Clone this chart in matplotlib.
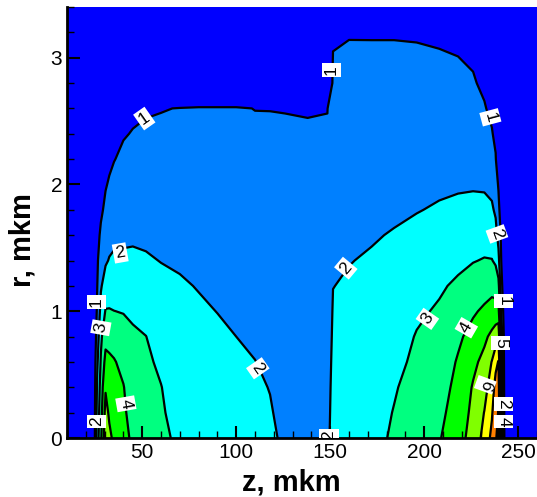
import numpy as np
import matplotlib
matplotlib.use("Agg")
import matplotlib.pyplot as plt
from matplotlib.ticker import MultipleLocator

plt.rcParams['font.family'] = ['Liberation Sans', 'DejaVu Sans']

# grid of the field (z in mkm, r in mkm)
z_nodes = [10, 24, 26, 28, 30.5, 32.5, 35, 40, 45, 52, 60, 70, 80, 90, 100, 110, 118, 126,
           138, 148.5, 151.5, 160, 172, 184, 196, 208, 218, 226, 232, 236, 238, 239.5,
           241, 242.5, 244, 260]
r_nodes = [0, 0.2, 0.4, 0.6, 0.8, 1.0, 1.2, 1.4, 1.6, 1.8, 2.0, 2.2, 2.4, 2.6, 2.8, 3.0, 3.2, 3.4]

# one profile (value vs r) for every z node
field = [
    [0, 0, 0, 0, 0, 0, 0, 0, 0, 0, 0, 0, 0, 0, 0, 0, 0, 0],
    [0, 0, 0, 0, 0, 0, 0, 0, 0, 0, 0, 0, 0, 0, 0, 0, 0, 0],
    [2.5, 2.3, 2.1, 1.8, 1.4, 1.1, 0.95, 0.85, 0.6, 0.3, 0, 0, 0, 0, 0, 0, 0, 0],
    [3.8, 3.6, 3.4, 3.1, 2.8, 2.3, 1.9, 1.5, 1.2, 0.8, 0.2, 0, 0, 0, 0, 0, 0, 0],
    [5.7, 5.32, 4.91, 4.30, 3.69, 3.06, 2.42, 1.89, 1.56, 1.24, 0.92, 0, 0, 0, 0, 0, 0, 0],
    [5.2, 4.86, 4.52, 4.17, 3.69, 3.06, 2.55, 2.05, 1.72, 1.42, 1.11, 0.80, 0, 0, 0, 0, 0, 0],
    [4.82, 4.57, 4.32, 4.07, 3.59, 3.01, 2.57, 2.13, 1.81, 1.53, 1.25, 0.97, 0, 0, 0, 0, 0, 0],
    [4.24, 4.14, 4.04, 3.75, 3.35, 2.96, 2.55, 2.14, 1.85, 1.63, 1.40, 1.17, 0.94, 0, 0, 0, 0, 0],
    [3.86, 3.68, 3.49, 3.31, 3.12, 2.87, 2.51, 2.15, 1.88, 1.67, 1.46, 1.25, 1.04, 0.84, 0, 0, 0, 0],
    [3.52, 3.39, 3.26, 3.13, 3.01, 2.69, 2.38, 2.08, 1.86, 1.67, 1.49, 1.30, 1.11, 0.93, 0, 0, 0, 0],
    [3.13, 3.08, 3.02, 2.87, 2.64, 2.42, 2.20, 1.98, 1.81, 1.65, 1.48, 1.31, 1.14, 0.97, 0, 0, 0, 0],
    [2.88, 2.74, 2.61, 2.47, 2.34, 2.20, 2.07, 1.92, 1.77, 1.62, 1.46, 1.31, 1.15, 1.02, 0, 0, 0, 0],
    [2.72, 2.59, 2.47, 2.34, 2.22, 2.09, 1.97, 1.83, 1.69, 1.55, 1.42, 1.28, 1.14, 1.05, 0, 0, 0, 0],
    [2.6, 2.48, 2.36, 2.23, 2.11, 1.99, 1.87, 1.74, 1.62, 1.50, 1.37, 1.25, 1.13, 1.05, 0, 0, 0, 0],
    [2.45, 2.34, 2.23, 2.11, 2.0, 1.89, 1.78, 1.67, 1.56, 1.45, 1.34, 1.23, 1.12, 1.05, 0, 0, 0, 0],
    [2.3, 2.20, 2.10, 2.01, 1.90, 1.80, 1.70, 1.60, 1.50, 1.40, 1.30, 1.20, 1.10, 0.99, 0, 0, 0, 0],
    [2.12, 2.05, 1.98, 1.89, 1.80, 1.71, 1.62, 1.53, 1.44, 1.35, 1.26, 1.17, 1.08, 0.99, 0, 0, 0, 0],
    [1.88, 1.81, 1.74, 1.67, 1.60, 1.54, 1.47, 1.40, 1.33, 1.26, 1.19, 1.12, 1.06, 0.985, 0, 0, 0, 0],
    [1.75, 1.69, 1.63, 1.57, 1.51, 1.45, 1.39, 1.33, 1.27, 1.22, 1.16, 1.10, 1.04, 0.976, 0, 0, 0, 0],
    [1.72, 1.66, 1.61, 1.55, 1.50, 1.44, 1.38, 1.33, 1.27, 1.21, 1.16, 1.10, 1.04, 0.99, 0, 0, 0, 0],
    [2.45, 2.37, 2.30, 2.22, 2.14, 2.07, 1.99, 1.88, 1.78, 1.67, 1.56, 1.45, 1.35, 1.24, 1.13, 1.03, 0.91, 0],
    [2.6, 2.51, 2.42, 2.34, 2.25, 2.16, 2.07, 1.98, 1.87, 1.75, 1.64, 1.53, 1.42, 1.30, 1.19, 1.08, 0.966, 0],
    [2.82, 2.71, 2.60, 2.50, 2.39, 2.28, 2.17, 2.06, 1.95, 1.83, 1.70, 1.58, 1.46, 1.33, 1.21, 1.09, 0.96, 0],
    [3.08, 3.03, 2.94, 2.79, 2.64, 2.49, 2.34, 2.19, 2.04, 1.90, 1.77, 1.63, 1.50, 1.37, 1.23, 1.09, 0.96, 0],
    [3.50, 3.39, 3.27, 3.16, 3.05, 2.86, 2.64, 2.41, 2.18, 1.97, 1.82, 1.68, 1.53, 1.38, 1.24, 1.09, 0.94, 0],
    [3.93, 3.76, 3.60, 3.43, 3.27, 3.10, 2.89, 2.62, 2.34, 2.07, 1.88, 1.71, 1.55, 1.39, 1.22, 1.06, 0.89, 0],
    [4.62, 4.44, 4.27, 4.09, 3.83, 3.48, 3.14, 2.81, 2.48, 2.16, 1.91, 1.73, 1.55, 1.37, 1.19, 1.01, 0.81, 0],
    [5.38, 5.23, 5.08, 4.78, 4.33, 3.88, 3.42, 2.96, 2.59, 2.22, 1.92, 1.71, 1.51, 1.30, 1.09, 0.89, 0, 0],
    [6.31, 6.03, 5.65, 5.27, 4.81, 4.16, 3.59, 3.05, 2.64, 2.24, 1.89, 1.62, 1.35, 1.08, 0.81, 0, 0, 0],
    [7.26, 6.89, 6.47, 6.04, 5.22, 4.4, 3.68, 3.03, 2.58, 2.13, 1.76, 1.42, 1.08, 0.76, 0, 0, 0, 0],
    [7.9, 7.7, 7.38, 6.71, 5.5, 4.43, 3.58, 2.86, 2.32, 1.85, 1.47, 1.09, 0.73, 0, 0, 0, 0, 0],
    [8.3, 8.05, 7.6, 7.06, 5.73, 4.36, 3.32, 2.28, 1.7, 1.3, 0.9, 0, 0, 0, 0, 0, 0, 0],
    [4.6, 4.4, 4.0, 3.5, 2.8, 1.8, 1.3, 0.98, 0.8, 0.4, 0, 0, 0, 0, 0, 0, 0, 0],
    [1.1, 1.05, 1.0, 0.9, 0.8, 0.6, 0.4, 0.2, 0, 0, 0, 0, 0, 0, 0, 0, 0, 0],
    [0, 0, 0, 0, 0, 0, 0, 0, 0, 0, 0, 0, 0, 0, 0, 0, 0, 0],
    [0, 0, 0, 0, 0, 0, 0, 0, 0, 0, 0, 0, 0, 0, 0, 0, 0, 0],
]

fill_levels = [-5, 1, 2, 3, 4, 5, 6, 7, 8, 20]
fill_colors = ['#0000ff', '#0080ff', '#00ffff', '#00ff80', '#00ff00',
               '#80ff00', '#ffff00', '#ff8000', '#ff0000']
line_levels = [1, 2, 3, 4, 5, 6, 7, 8]

# contour labels: text, z, r, rotation
label_text = ['1', '1', '1', '2', '1', '3', '4', '2', '2', '2', '2', '3', '4',
              '1', '5', '6', '2', '4', '2']
label_z = [51.1, 150.7, 235.2, 38.3, 25.6, 28.0, 41.3, 25.6, 111.5, 149.4, 158.3, 201.7, 222.4,
           242.3, 240.5, 232.5, 242.3, 242.3, 238.7]
label_r = [2.52, 2.90, 2.53, 1.46, 1.07, 0.87, 0.27, 0.13, 0.55, 0.02, 1.34, 0.94, 0.87,
           1.08, 0.75, 0.42, 0.27, 0.13, 1.61]
label_rot = [35, 90, -75, 10, 90, 80, -80, 90, -55, 90, 50, 55, 60,
             -90, -90, -110, -90, -90, -70]

fig = plt.figure(figsize=(5.37, 4.97), dpi=100)
ax = fig.add_axes([0.1248, 0.1187, 0.8752, 0.8672])

Z = np.array(field).T
ax.contourf(z_nodes, r_nodes, Z, levels=fill_levels, colors=fill_colors)
ax.contour(z_nodes, r_nodes, Z, levels=line_levels, colors='black', linewidths=1.6)

for s, z, r, rot in zip(label_text, label_z, label_r, label_rot):
    ax.text(z, r, s, rotation=rot, ha='center', va='center', fontsize=12.5,
            rotation_mode='anchor', clip_on=True,
            bbox=dict(boxstyle='square,pad=0.12', fc='white', ec='none'))

ax.set_xlim(10, 260)
ax.set_ylim(0, 3.4)
ax.set_xticks([50, 100, 150, 200, 250])
ax.set_yticks([0, 1, 2, 3])
ax.xaxis.set_minor_locator(MultipleLocator(10))
ax.yaxis.set_minor_locator(MultipleLocator(0.2))
ax.tick_params(which='major', direction='in', length=9, width=1.5, labelsize=15,
               top=False, right=False)
ax.tick_params(which='minor', direction='in', length=5, width=1.0, top=False, right=False)
for side in ['top', 'right']:
    ax.spines[side].set_visible(False)
for side in ['left', 'bottom']:
    ax.spines[side].set_linewidth(2)

ax.set_xlabel('z, mkm', fontsize=21, fontweight='bold')
ax.set_ylabel('r, mkm', fontsize=21, fontweight='bold')
ax.xaxis.set_label_coords(0.477, -0.07)
ax.yaxis.set_label_coords(-0.064, 0.46)

fig.savefig('out.png', dpi=100)
